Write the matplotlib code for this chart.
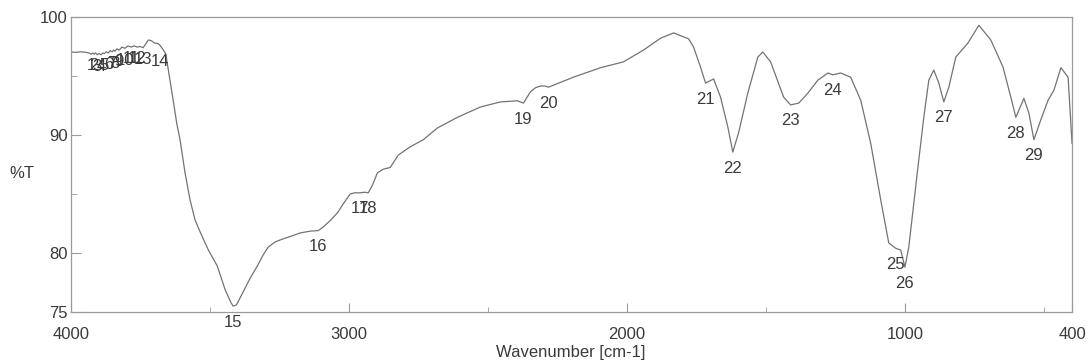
import matplotlib
matplotlib.use("Agg")
import matplotlib.pyplot as plt
import numpy as np

plt.rcParams['font.family'] = ['Liberation Sans', 'DejaVu Sans']

# IR spectrum, wavenumber [cm-1] vs %T
wavenumber = [4000, 3985, 3965, 3945, 3935, 3928, 3922, 3917, 3912, 3906,
              3899, 3892, 3886, 3881, 3873, 3866, 3859, 3852, 3847, 3842,
              3835, 3827, 3817, 3806, 3795, 3784, 3773, 3762, 3752, 3741,
              3732, 3722, 3712, 3700, 3688, 3680, 3668, 3660, 3650, 3633,
              3620, 3608, 3590, 3572, 3554, 3536, 3505, 3474, 3446, 3425,
              3417, 3405, 3381, 3355, 3330, 3310, 3291, 3265, 3237, 3205,
              3176, 3140, 3111, 3093, 3070, 3042, 3020, 2996, 2980, 2960,
              2945, 2931, 2915, 2898, 2877, 2852, 2823, 2780, 2733, 2682,
              2610, 2528, 2456, 2394, 2373, 2348, 2330, 2312, 2294, 2283,
              2193, 2096, 2013, 1941, 1880, 1833, 1779, 1761, 1736, 1718,
              1689, 1664, 1638, 1620, 1599, 1566, 1530, 1512, 1484, 1437,
              1412, 1383, 1350, 1314, 1278, 1260, 1232, 1196, 1160, 1124,
              1088, 1059, 1034, 1016, 1001, 987, 954, 933, 915, 897,
              879, 861, 843, 818, 774, 735, 692, 648, 620, 602,
              573, 555, 537, 512, 486, 465, 440, 414, 400]
transmittance = [97.05, 97.0, 97.05, 97.0, 96.95, 96.85, 96.95, 96.85, 96.95, 96.8,
                 96.9, 96.8, 96.95, 96.9, 97.05, 96.95, 97.15, 97.05, 97.2, 97.1,
                 97.3, 97.2, 97.45, 97.35, 97.55, 97.45, 97.55, 97.45, 97.5, 97.4,
                 97.7, 98.05, 98.0, 97.8, 97.75, 97.6, 97.2, 96.9, 95.5, 93.0,
                 91.0, 89.6, 86.8, 84.5, 82.8, 81.8, 80.2, 78.9, 76.9, 75.8,
                 75.5, 75.6, 76.7, 77.9, 78.9, 79.8, 80.5, 80.95, 81.2, 81.45,
                 81.7, 81.85, 81.9, 82.2, 82.7, 83.4, 84.2, 85.0, 85.1, 85.1,
                 85.15, 85.1, 85.8, 86.8, 87.1, 87.25, 88.3, 89.0, 89.6, 90.6,
                 91.5, 92.37, 92.8, 92.9, 92.7, 93.65, 94.0, 94.15, 94.15, 94.05,
                 94.9, 95.7, 96.2, 97.2, 98.2, 98.65, 98.15, 97.45, 95.75, 94.4,
                 94.75, 93.2, 90.7, 88.55, 90.2, 93.55, 96.6, 97.03, 96.2, 93.2,
                 92.55, 92.7, 93.55, 94.65, 95.25, 95.1, 95.25, 94.9, 92.95, 89.3,
                 84.5, 80.85, 80.4, 80.25, 78.8, 80.5, 87.3, 91.5, 94.65, 95.5,
                 94.4, 92.8, 94.05, 96.6, 97.8, 99.3, 98.05, 95.75, 93.2, 91.5,
                 93.1, 91.85, 89.6, 91.3, 92.95, 93.8, 95.7, 94.9, 89.3]

# picked peaks (numbered 1..29)
peak_no = list(range(1, 30))
peak_wn = [3928, 3917, 3906, 3892, 3881, 3866, 3852, 3842, 3827, 3806,
           3784, 3762, 3741, 3680, 3417, 3111, 2960, 2931, 2373, 2283,
           1718, 1620, 1412, 1260, 1034, 1001, 861, 602, 537]

x_major = [4000, 3000, 2000, 1000, 400]
x_minor = [3500, 2500, 1500, 500]
y_major = [75, 80, 90, 100]
y_minor = [85, 95]

text_c = '#3a3a3a'
frame_c = '#9a9a9a'

fig = plt.figure(figsize=(10.88, 3.63), dpi=100)
ax = fig.add_axes([0.0653, 0.1405, 0.9200, 0.8127])

ax.plot(wavenumber, transmittance, color='#737373', lw=0.9)

wn_arr = np.array(wavenumber)[::-1]
t_arr = np.array(transmittance)[::-1]
for n, w in zip(peak_no, peak_wn):
    t = np.interp(w, wn_arr, t_arr)
    dy = -8.5 if n <= 13 else -11.5   # noisy-region labels sit a bit closer
    ax.annotate(str(n), (w, t), xytext=(0, dy), textcoords='offset points',
                ha='center', va='center', fontsize=12, color=text_c,
                annotation_clip=False)

ax.set_xlim(4000, 400)
ax.set_ylim(75, 100)
ax.set_xticks(x_major)
ax.set_xticks(x_minor, minor=True)
ax.set_yticks(y_major)
ax.set_yticks(y_minor, minor=True)

ax.tick_params(axis='x', which='major', direction='in', length=6.5, pad=11,
               labelsize=12, labelcolor=text_c, color=frame_c)
ax.tick_params(axis='x', which='minor', direction='in', length=3.6, color=frame_c)
ax.tick_params(axis='y', which='major', direction='in', length=7, pad=2.5,
               labelsize=12, labelcolor=text_c, color=frame_c)
ax.tick_params(axis='y', which='minor', direction='in', length=4.3, color=frame_c)

for s in ax.spines.values():
    s.set_color(frame_c)
    s.set_linewidth(0.9)

ax.text(-0.049, 0.47, '%T', transform=ax.transAxes, ha='center', va='center',
        fontsize=12, color=text_c)
fig.text(571 / 1088, 1 - 352 / 363, 'Wavenumber [cm-1]', ha='center', va='center',
         fontsize=12, color=text_c)

fig.savefig('out.png', dpi=100)
